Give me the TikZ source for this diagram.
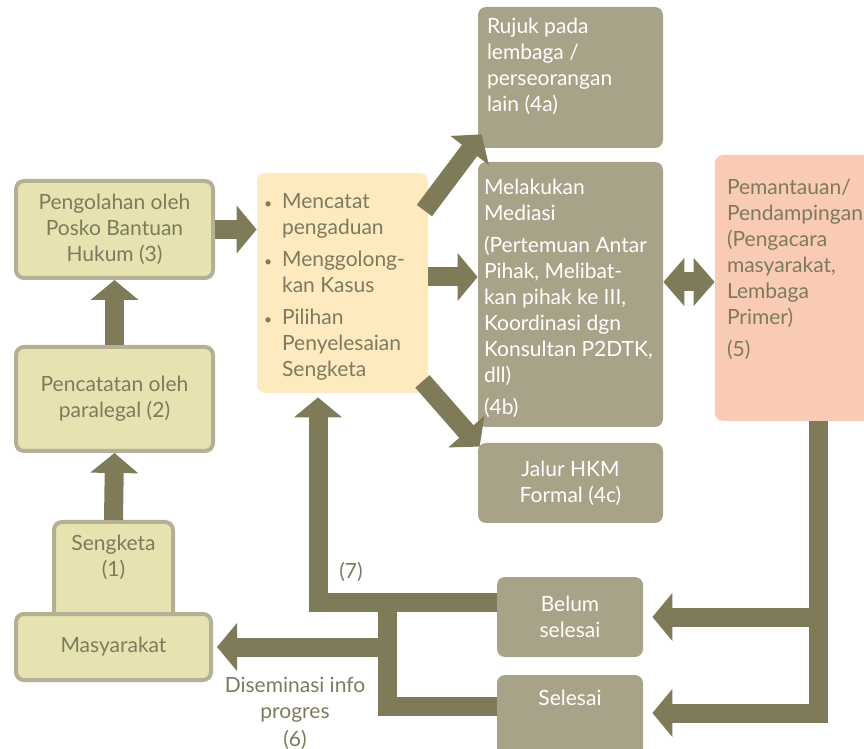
\documentclass[tikz,border=0pt]{standalone}
\usepackage{fontspec}
\setmainfont{Lato}
\usetikzlibrary{arrows.meta, positioning}
\usepackage{xcolor}
\definecolor{olv}{HTML}{7F7B59}
\definecolor{khaki}{HTML}{A8A388}
\definecolor{pale}{HTML}{E6E3B1}
\definecolor{rim}{HTML}{B5AF95}
\definecolor{cream}{HTML}{FEEABF}
\definecolor{salmon}{HTML}{F9CBB4}
\definecolor{olvtxt}{HTML}{7D7A5E}

\begin{document}
\begin{tikzpicture}[x=0.5pt,y=-0.5pt,font=\fontsize{10.5}{13}\selectfont,
    pbox/.style={draw=rim,line width=2pt,fill=pale,rounded corners=4pt,inner sep=0pt,text=olvtxt,align=center},
    gbox/.style={fill=khaki,rounded corners=4pt,inner sep=0pt,text=white,align=center},
    wtxt/.style={text=white,align=left,inner sep=0pt},
    otxt/.style={text=olvtxt,align=left,inner sep=0pt},
    bar/.style={draw=olv,line width=9.5pt},
    hd/.style={-{Triangle[width=23.5pt,length=10pt]}}]
    \useasboundingbox (0,0) rectangle (864,749);
    % Left column
    \node[pbox,minimum width=98.5pt,minimum height=48.5pt] (b3) at (114.5,229.5) {Pengolahan oleh\\Posko Bantuan\\Hukum (3)};
    \node[pbox,minimum width=98.5pt,minimum height=52pt] (b2) at (114.5,399) {Pencatatan oleh\\paralegal (2)};
    \node[pbox,minimum width=59.5pt,minimum height=58pt] (b1) at (113.5,580) {};
    \node[otxt,align=center] (t1) at (113.5,557) {Sengketa\\(1)};
    \node[pbox,minimum width=97.5pt,minimum height=33pt] (masy) at (113.5,647) {Masyarakat};
    % Middle
    \node[fill=cream,rounded corners=4pt,minimum width=85.5pt,minimum height=110pt] (cent) at (342.5,283) {};
    \node[otxt,anchor=north west] (tc) at ([shift={(7,17)}]cent.north west) {%
      \begin{tabular}{@{}l@{\hspace{5pt}}l@{}}
      {\scriptsize\textbullet} & Mencatat\\ & pengaduan\\[3pt]
      {\scriptsize\textbullet} & Menggolong-\\ & kan Kasus\\[3pt]
      {\scriptsize\textbullet} & Pilihan\\ & Penyelesaian\\ & Sengketa
      \end{tabular}};
    % Options (4)
    \node[gbox,minimum width=92.5pt,minimum height=70.5pt] (b4a) at (570.5,77.5) {};
    \node[wtxt,anchor=north west] (t4a) at ([shift={(9,11)}]b4a.north west) {Rujuk pada\\lembaga /\\perseorangan\\lain (4a)};
    \node[gbox,minimum width=92.5pt,minimum height=132.5pt] (b4b) at (570.5,294.5) {};
    \node[wtxt,anchor=north west] (t4b) at ([shift={(6,17)}]b4b.north west) {Melakukan\\Mediasi\\[3pt](Pertemuan Antar\\Pihak, Melibat-\\kan pihak ke III,\\Koordinasi dgn\\Konsultan P2DTK,\\dll)\\[3pt](4b)};
    \node[gbox,minimum width=92.5pt,minimum height=40pt] (b4c) at (570.5,483) {Jalur HKM\\Formal (4c)};
    % Monitoring (5)
    \node[fill=salmon,rounded corners=4pt,minimum width=79.5pt,minimum height=133pt] (b5) at (794.5,288) {};
    \node[otxt,anchor=north west] (t5) at ([shift={(12,24)}]b5.north west) {Pemantauan/\\Pendampingan\\(Pengacara\\masyarakat,\\Lembaga\\Primer)\\[3pt](5)};
    % Results
    \node[gbox,minimum width=73pt,minimum height=40pt] (bel) at (570,617) {Belum\\selesai};
    \node[gbox,minimum width=73pt,minimum height=42.5pt] (sel) at (570,717.5) {};
    \node[wtxt] (tsel) at (570,698) {Selesai};
    % Arrows
    \draw[bar,hd] (b1.north) -- (b2.south);
    \draw[bar,hd] (b2.north) -- (b3.south);
    \draw[bar,hd] (b3.east) -- (cent.west |- b3.east);
    \coordinate (m4) at ([yshift=3pt]cent.east);
    \draw[bar,hd] (m4) -- (b4b.west |- m4);
    \draw[bar,hd] ([shift={(-4,38)}]cent.north east) -- ([shift={(4,-14)}]b4a.south west);
    \draw[bar,hd] ([shift={(-6,-12)}]cent.south east) -- ([shift={(2,4)}]b4c.north west);
    \coordinate (m5) at ([yshift=3pt]b5.west);
    \draw[bar,{Triangle[width=23.5pt,length=10.5pt]}-{Triangle[width=23.5pt,length=10.5pt]}] (b4b.east |- m5) -- (m5);
    % Feedback
    \coordinate (k5) at (818,713);
    \draw[bar,hd,shorten >=4.5pt] (b5.south -| k5) -- (k5) -- (sel.east |- k5);
    \draw[bar,hd,shorten >=4.5pt] (bel.east -| k5) -- (bel.east);
    \coordinate (k7) at (318,602);
    \draw[bar,hd,shorten >=2pt] (bel.west |- k7) -- (k7) -- (k7 |- cent.south);
    \coordinate (k6) at (387,706);
    \draw[bar] (sel.west |- k6) -- (k6) -- (k6 |- k7);
    \draw[bar,hd,shorten >=2pt] (k6 |- masy.east) -- (masy.east);
    % Labels
    \node[otxt] (l7) at (351,572) {(7)};
    \node[otxt,align=center] (l6) at (295,700) {Diseminasi info\\progres};
    \node[otxt] (n6) at (295,740) {(6)};
\end{tikzpicture}
\end{document}
